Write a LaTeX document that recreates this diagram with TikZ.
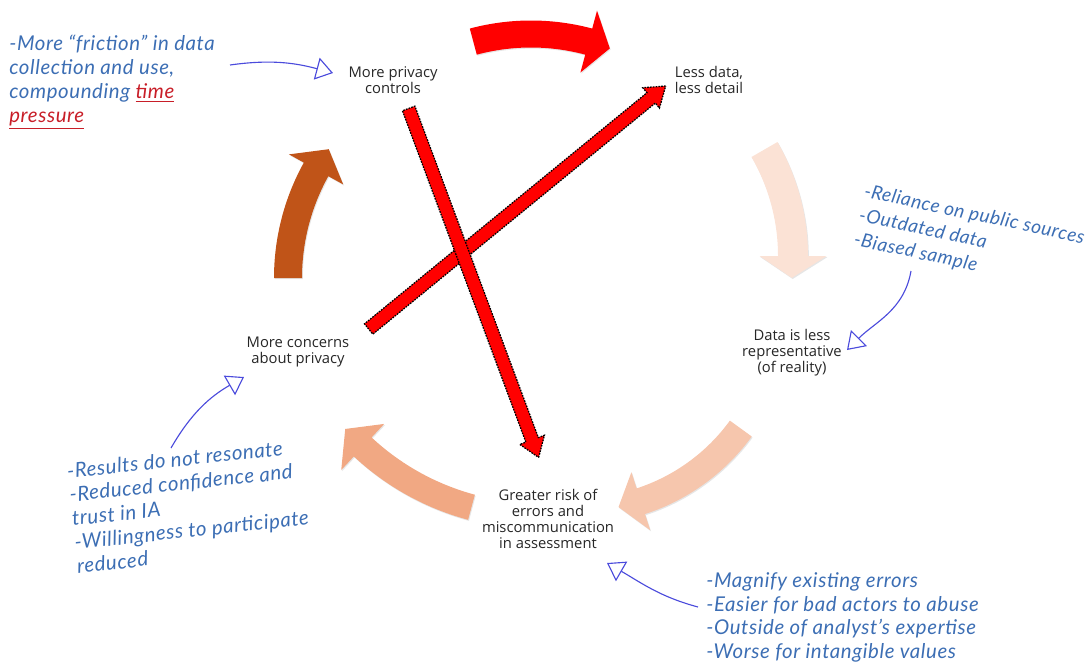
\documentclass[tikz,border=0pt]{standalone}
\usepackage{fontspec}
\setsansfont{Open Sans}
\newfontfamily\handfont{Lato}[LetterSpace=3]
\usepackage{xcolor}
\usepackage{tikz}
\usetikzlibrary{calc}
\usetikzlibrary{arrows.meta}
\usetikzlibrary{shapes.arrows}
\usetikzlibrary{shadows}

\definecolor{penblue}{RGB}{60,110,180}
\definecolor{penline}{RGB}{75,75,220}
\definecolor{penred}{RGB}{200,30,40}
\definecolor{arrowred}{RGB}{255,0,0}
\definecolor{peachlight}{RGB}{251,226,213}
\definecolor{peachmid}{RGB}{246,198,173}
\definecolor{salmon}{RGB}{241,168,131}
\definecolor{rust}{RGB}{192,84,24}

\newcommand{\cyclearrow}[8]{%
	\fill[#8, drop shadow={opacity=0.2, shadow xshift=0.6pt, shadow yshift=-0.8pt}]
		($#1+(#3:{#2+#5})$) arc[start angle=#3, end angle=#4, radius={#2+#5}]
		-- ($#1+(#4:{#2+#6})$) -- ($#1+({#4-#7}:#2)$) -- ($#1+(#4:{#2-#6})$)
		-- ($#1+(#4:{#2-#5})$) arc[start angle=#4, end angle=#3, radius={#2-#5}] -- cycle;}

\begin{document}
\begin{tikzpicture}[x=0.025cm, y=0.025cm,
		stage/.style={font=\sffamily\fontsize{10.5}{11.3}\selectfont, align=center, text=black!85},
		note/.style={font=\handfont\itshape\fontsize{14.5}{17}\selectfont, text=penblue,
			align=left, anchor=north west, inner sep=0pt},
		pen/.style={draw=penline, line width=0.8pt, -{Triangle[open, length=12pt, width=16pt]}},
		crossarrow/.style={single arrow, fill=arrowred, draw=black, dash pattern=on 1.2pt off 0.8pt,
			line width=0.9pt, inner xsep=0pt, inner ysep=0.15cm, outer sep=0pt,
			single arrow head extend=0.1625cm, single arrow tip angle=70}
	]
	\useasboundingbox (0,0) rectangle (1091,-666);

	\cyclearrow{(531,-257)}{223}{105}{75}{13.5}{32}{5.7}{arrowred}
	\cyclearrow{(580,-256)}{213}{30}{0}{15}{33.5}{5.9}{peachlight}
	\cyclearrow{(579,-311)}{200}{-36}{-72}{13.5}{30.5}{6.6}{peachmid}
	\cyclearrow{(538,-259)}{257}{255}{227}{13}{31.5}{5.6}{salmon}
	\cyclearrow{(512,-278)}{224}{180}{151}{14}{31}{6.1}{rust}

	\node[stage] (controls) at (393,-80) {More privacy\\controls};
	\node[stage] (lessdata) at (709,-80) {Less data,\\less detail};
	\node[stage] (represent) at (792,-353) {Data is less\\representative\\(of reality)};
	\node[stage] (risk) at (548,-519) {Greater risk of\\errors and\\miscommunication\\in assessment};
	\node[stage] (concerns) at (298,-352) {More concerns\\about privacy};

	\coordinate (xa1) at (365,-332);
	\coordinate (xb1) at (662,-89);
	\coordinate (xa2) at (407,-104);
	\coordinate (xb2) at (537,-453);
	\path let \p1=($(xb1)-(xa1)$), \n1={atan2(\y1,\x1)}, \n2={veclen(\x1,\y1)} in
		node[crossarrow, minimum height=\n2, rotate=\n1] (cut1) at ($(xa1)!0.5!(xb1)$) {};
	\path let \p1=($(xb2)-(xa2)$), \n1={atan2(\y1,\x1)}, \n2={veclen(\x1,\y1)} in
		node[crossarrow, minimum height=\n2, rotate=\n1] (cut2) at ($(xa2)!0.5!(xb2)$) {};

	\node[note] (friction) at (9,-35) {-More “friction” in data\\collection and use,\\compounding {\color{penred}\underline{time}}\\{\color{penred}\underline{pressure}}};
	\node[note, rotate=-12, font=\handfont\itshape\fontsize{13.5}{17.5}\selectfont] (sources) at (866,-183) {-Reliance on public sources\\-Outdated data\\-Biased sample};
	\node[note, rotate=6] (resonate) at (66,-463) {-Results do not resonate\\-Reduced confidence and\\trust in IA\\-Willingness to participate\\reduced};
	\node[note] (magnify) at (706,-572) {-Magnify existing errors\\-Easier for bad actors to abuse\\-Outside of analyst’s expertise\\-Worse for intangible values};

	\coordinate (p1a) at (230,-65);
	\coordinate (p1b) at (333,-73);
	\coordinate (p2a) at (911,-271);
	\coordinate (p2b) at (847,-350);
	\coordinate (p3a) at (171,-448);
	\coordinate (p3b) at (244,-377);
	\coordinate (p4a) at (698,-607);
	\coordinate (p4b) at (607,-563);
	\draw[pen] (p1a) to[out=8, in=165] (p1b);
	\draw[pen] (p2a) to[out=-100, in=45] (p2b);
	\draw[pen] (p3a) to[out=60, in=-150] (p3b);
	\draw[pen] (p4a) to[out=165, in=-30] (p4b);
\end{tikzpicture}
\end{document}
